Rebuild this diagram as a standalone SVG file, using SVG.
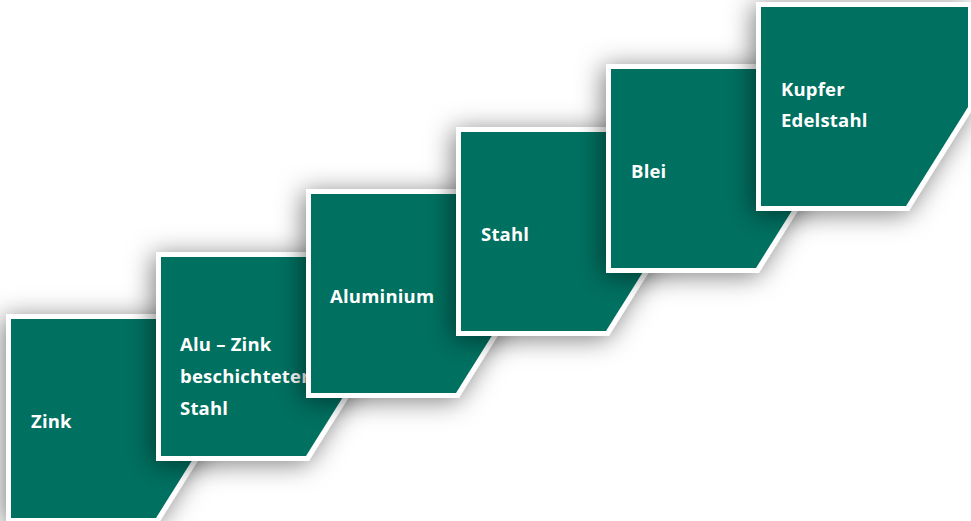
<svg xmlns="http://www.w3.org/2000/svg" width="971" height="521" viewBox="0 0 971 521">
<style>
.card{fill:#016f60;stroke:#ffffff;stroke-width:10;stroke-linejoin:miter;paint-order:stroke;filter:url(#sh)}
.t{font-family:"Open Sans","Liberation Sans",sans-serif;font-weight:700;font-size:18.5px;letter-spacing:0.2px;fill:#ffffff}
</style>
<defs>
<filter id="sh" x="-30%" y="-30%" width="160%" height="160%">
<feDropShadow dx="-3" dy="3" stdDeviation="13" flood-color="#000000" flood-opacity="0.5"/>
</filter>
<polygon id="shape" points="0,0 207,0 207,100 145,199 0,199"/>
</defs>
<rect width="971" height="521" fill="#ffffff"/>
<g id="zink" transform="translate(11,319)">
<use href="#shape" class="card"/>
<text class="t" x="20" y="109">Zink</text>
</g>
<g id="alu-zink" transform="translate(161,257)">
<use href="#shape" class="card"/>
<text class="t" x="19" y="94">Alu – Zink</text>
<text class="t" x="19" y="126">beschichteter</text>
<text class="t" x="19" y="158">Stahl</text>
</g>
<g id="aluminium" transform="translate(311,194)">
<use href="#shape" class="card"/>
<text class="t" x="19" y="109">Aluminium</text>
</g>
<g id="stahl" transform="translate(461,132)">
<use href="#shape" class="card"/>
<text class="t" x="20" y="109">Stahl</text>
</g>
<g id="blei" transform="translate(611,69)">
<use href="#shape" class="card"/>
<text class="t" x="20" y="109">Blei</text>
</g>
<g id="kupfer" transform="translate(761,7)">
<use href="#shape" class="card"/>
<text class="t" x="20" y="89">Kupfer</text>
<text class="t" x="20" y="120">Edelstahl</text>
</g>
<g id="connectors"></g>
</svg>
